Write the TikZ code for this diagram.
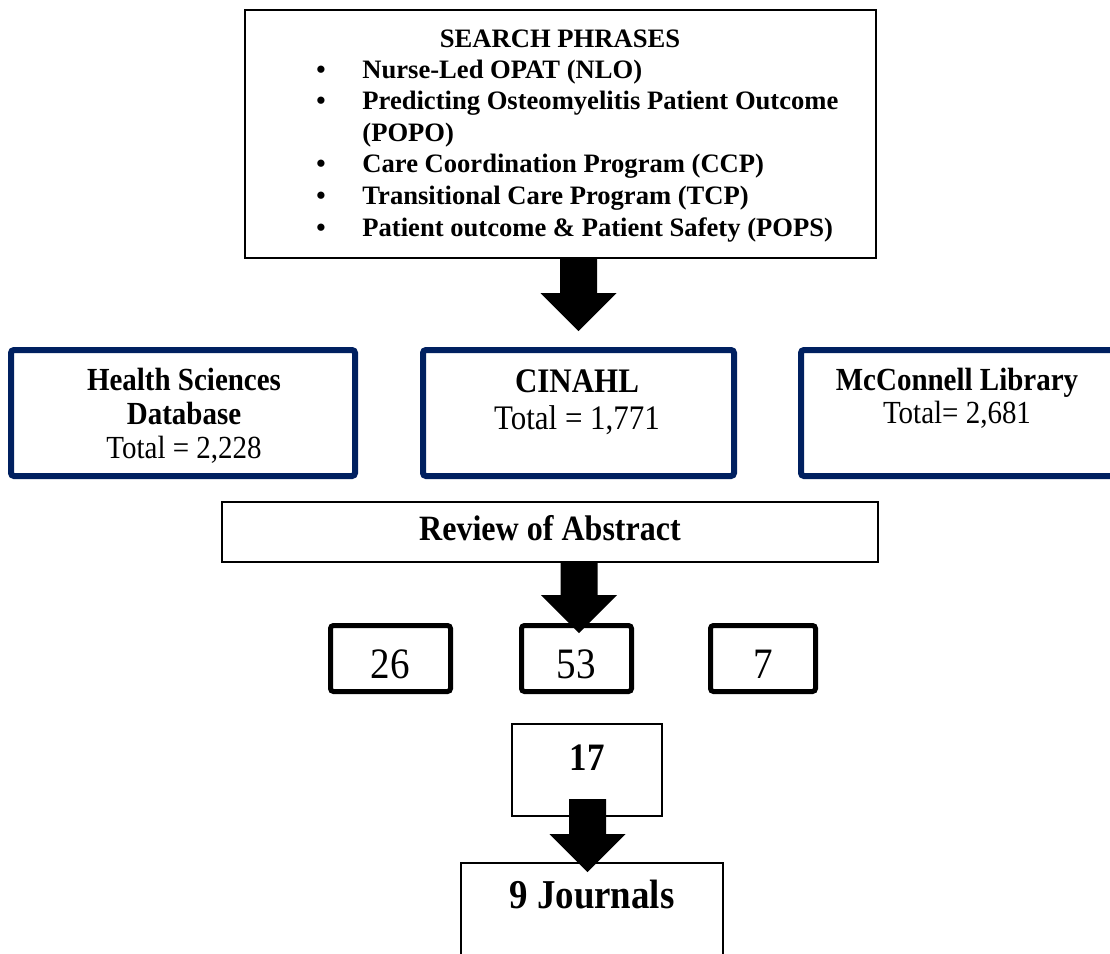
\documentclass[tikz,border=0pt]{standalone}
\usepackage{fontspec}
\setmainfont{Liberation Serif}
\newfontfamily\narrowfont[FakeStretch=0.9]{Liberation Serif}
\usetikzlibrary{calc}
\definecolor{navy}{RGB}{0,32,96}
\tikzset{
  thinbox/.style = {draw, line width=0.9pt, inner sep=0pt},
  bluebox/.style = {draw=navy, line width=3pt, rounded corners=1.5pt, inner sep=0pt},
  countbox/.style = {draw, line width=2.5pt, rounded corners=1.5pt, inner sep=0pt,
    text height=19.5pt, text depth=0pt, font=\narrowfont\fontsize{21.7}{24}\selectfont},
  listtext/.style = {anchor=base west, inner sep=0pt, font=\fontsize{13.3}{16}\selectfont\bfseries},
  dbtext/.style = {anchor=base, inner sep=0pt, align=center}
}
\newcommand{\bul}{\makebox[23pt][l]{\textbullet}}
\newcommand{\fatarrow}[2]{\fill ($(#1)+(-9.25pt,0pt)$) -- ($(#1)+(9.25pt,0pt)$)
  -- ($(#2)+(9.25pt,19pt)$) -- ($(#2)+(19pt,19pt)$) -- (#2)
  -- ($(#2)+(-19pt,19pt)$) -- ($(#2)+(-9.25pt,19pt)$) -- cycle;}

\begin{document}
\begin{tikzpicture}[x=0.5pt, y=-0.5pt]
\clip (0,0) rectangle (1110,954);

% search phrases
\node[thinbox, line width=1pt, minimum width=315.5pt, minimum height=124pt] (phrases) at (560.5,134) {};
\node[anchor=base, inner sep=0pt, font=\fontsize{13.3}{16}\selectfont\bfseries] (title) at (560,47) {SEARCH PHRASES};
\node[listtext] (nlo) at (316,78) {\bul Nurse-Led OPAT (NLO)};
\node[listtext] (popo) at (316,109.6) {\bul Predicting Osteomyelitis Patient Outcome};
\node[listtext] (popob) at (362,141.2) {(POPO)};
\node[listtext] (ccp) at (316,172.8) {\bul Care Coordination Program (CCP)};
\node[listtext] (tcp) at (316,204.4) {\bul Transitional Care Program (TCP)};
\node[listtext] (pops) at (316,236) {\bul Patient outcome \& Patient Safety (POPS)};

% databases (base = last line)
\node[bluebox, minimum width=172pt, minimum height=63pt] (hsdb) at (183,413) {};
\node[dbtext, font=\narrowfont\fontsize{16.1}{17}\selectfont] (hsdbtext) at (184,458)
  {\textbf{Health Sciences}\\\textbf{Database}\\Total = 2,228};
\node[bluebox, minimum width=155.5pt, minimum height=63pt] (cinahl) at (578.5,413) {};
\node[dbtext, font=\narrowfont\fontsize{17.2}{18.5}\selectfont] (cinahltext) at (577,429)
  {\textbf{CINAHL}\\Total = 1,771};
\node[bluebox, minimum width=164.5pt, minimum height=63pt] (mcc) at (965.5,413) {};
\node[dbtext, font=\narrowfont\fontsize{16.1}{16.5}\selectfont] (mcctext) at (957,423)
  {\textbf{McConnell Library}\\Total= 2,681};

% screening
\node[thinbox, minimum width=328pt, minimum height=30pt, text height=11pt, text depth=3pt,
  font=\narrowfont\fontsize{17.8}{20}\selectfont\bfseries] (review) at (550,532) {Review of Abstract};
\node[countbox, minimum width=60pt, minimum height=33pt] (n26) at (390.5,658.5) {26};
\node[countbox, minimum width=55pt, minimum height=33pt] (n53) at (576.5,658.5) {53};
\node[countbox, minimum width=52.5pt, minimum height=33pt] (n7) at (763,658.5) {7};
\node[thinbox, minimum width=75pt, minimum height=46pt] (seventeen) at (587,770) {};
\node[anchor=base, inner sep=0pt, font=\narrowfont\fontsize{19.4}{22}\selectfont\bfseries] (seventeentext) at (587,770) {17};
\node[thinbox, minimum width=131pt, minimum height=80pt, anchor=north] (journals) at (592,862) {};
\node[anchor=base, inner sep=0pt, font=\narrowfont\fontsize{20.5}{24}\selectfont\bfseries] (journalstext) at (592,908) {9 Journals};

% block arrows
\coordinate (top1) at (578.5,258);
\coordinate (tip1) at (578.5,331);
\coordinate (top2) at (579,562);
\coordinate (tip2) at (579,633);
\coordinate (top3) at (587.5,799);
\coordinate (tip3) at (587.5,872);
\fatarrow{top1}{tip1}
\fatarrow{top2}{tip2}
\fatarrow{top3}{tip3}

\end{tikzpicture}
\end{document}
